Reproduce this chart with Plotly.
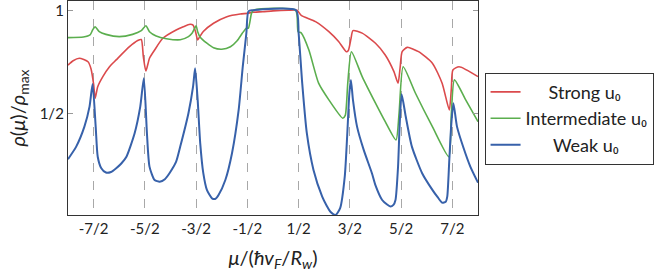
import plotly.graph_objects as go

# ---- data ----
tick_vals = [-3.5, -2.5, -1.5, -0.5, 0.5, 1.5, 2.5, 3.5]
tick_text = ["-7/2", "-5/2", "-3/2", "-1/2", "1/2", "3/2", "5/2", "7/2"]
ytick_vals = [0.5, 1.0]
ytick_text = ["1/2", "1"]

strong_x = [-4.00, -3.90, -3.78, -3.61, -3.55, -3.50, -3.47, -3.42, -3.32, -3.19, -3.06, -2.80,
            -2.64, -2.57, -2.53, -2.48, -2.41, -2.31, -2.15, -1.89, -1.75, -1.62, -1.56, -1.51,
            -1.47, -1.42, -1.36, -1.16, -0.90, -0.64, -0.50, -0.40, -0.20, 0.00, 0.30, 0.47,
            0.55, 0.83, 1.09, 1.28, 1.43, 1.47, 1.52, 1.56, 1.74, 2.00, 2.19, 2.36, 2.44, 2.48,
            2.52, 2.62, 2.84, 3.11, 3.30, 3.44, 3.48, 3.51, 3.63, 4.00]
strong_y = [0.734, 0.755, 0.767, 0.750, 0.715, 0.640, 0.573, 0.629, 0.678, 0.726, 0.759, 0.823,
            0.853, 0.858, 0.775, 0.705, 0.767, 0.807, 0.864, 0.904, 0.920, 0.932, 0.928, 0.895,
            0.856, 0.875, 0.897, 0.937, 0.969, 0.982, 0.985, 0.990, 0.993, 0.997, 1.000, 1.000,
            0.975, 0.945, 0.896, 0.848, 0.799, 0.805, 0.860, 0.901, 0.889, 0.840, 0.783, 0.702,
            0.646, 0.720, 0.799, 0.820, 0.799, 0.743, 0.646, 0.516, 0.620, 0.710, 0.726, 0.678]

inter_x = [-4.00, -3.70, -3.57, -3.52, -3.47, -3.39, -3.26, -3.00, -2.74, -2.57, -2.48, -2.41,
           -2.28, -2.08, -1.81, -1.65, -1.58, -1.50, -1.47, -1.42, -1.29, -1.16, -1.00, -0.83,
           -0.70, -0.60, -0.52, -0.48, -0.42, -0.38, 0.44, 0.49, 0.55, 0.70, 0.89, 1.09, 1.36,
           1.41, 1.46, 1.53, 1.74, 2.00, 2.19, 2.40, 2.46, 2.54, 2.78, 3.11, 3.43, 3.48, 3.54,
           3.76, 4.00]
inter_y = [0.867, 0.870, 0.880, 0.904, 0.920, 0.896, 0.883, 0.872, 0.883, 0.901, 0.925, 0.896,
           0.875, 0.862, 0.857, 0.872, 0.888, 0.924, 0.896, 0.869, 0.840, 0.818, 0.811, 0.823,
           0.852, 0.888, 0.913, 0.913, 0.985, 1.000, 1.000, 0.896, 0.890, 0.807, 0.646, 0.565,
           0.476, 0.490, 0.650, 0.799, 0.678, 0.549, 0.459, 0.370, 0.500, 0.726, 0.597, 0.435,
           0.289, 0.500, 0.662, 0.565, 0.459]

weak_x = [-4.00, -3.84, -3.68, -3.58, -3.52, -3.46, -3.42, -3.35, -3.26, -3.16, -3.06, -2.96,
          -2.86, -2.70, -2.59, -2.52, -2.46, -2.41, -2.31, -2.21, -2.11, -2.02, -1.89, -1.81,
          -1.65, -1.56, -1.52, -1.47, -1.42, -1.36, -1.29, -1.19, -1.12, -1.06, -0.93, -0.80,
          -0.67, -0.59, -0.52, -0.48, -0.40, 0.45, 0.50, 0.57, 0.66, 0.79, 0.96, 1.05, 1.12,
          1.22, 1.31, 1.40, 1.45, 1.49, 1.52, 1.56, 1.64, 1.77, 1.93, 2.00, 2.13, 2.22, 2.29,
          2.35, 2.39, 2.44, 2.47, 2.51, 2.59, 2.71, 2.91, 3.11, 3.22, 3.30, 3.37, 3.40, 3.44,
          3.48, 3.52, 3.59, 3.72, 3.85, 4.00]
weak_y = [0.277, 0.338, 0.435, 0.532, 0.642, 0.435, 0.289, 0.233, 0.212, 0.215, 0.233, 0.256,
          0.289, 0.403, 0.532, 0.670, 0.403, 0.241, 0.176, 0.168, 0.180, 0.209, 0.265, 0.338,
          0.500, 0.629, 0.718, 0.565, 0.354, 0.209, 0.128, 0.087, 0.085, 0.104, 0.176, 0.306,
          0.516, 0.726, 0.888, 0.995, 1.000, 1.000, 0.888, 0.646, 0.403, 0.225, 0.095, 0.050,
          0.022, 0.006, 0.039, 0.192, 0.403, 0.597, 0.662, 0.565, 0.435, 0.322, 0.209, 0.150,
          0.079, 0.058, 0.047, 0.055, 0.079, 0.241, 0.435, 0.592, 0.484, 0.338, 0.209, 0.128,
          0.090, 0.066, 0.070, 0.095, 0.273, 0.451, 0.549, 0.435, 0.330, 0.241, 0.163]

names = ["Strong u₀", "Intermediate u₀", "Weak u₀"]
colors = ["#DB4A4C", "#5BAE4E", "#3761AA"]

NB = "\u00a0"
FONT = "Lato, 'DejaVu Sans', sans-serif"

fig = go.Figure()
series = [(strong_x, strong_y), (inter_x, inter_y), (weak_x, weak_y)]
pads = [NB * 5, "", NB * 6]
widths = [1.6, 1.6, 2.0]
for (xs, ys), nm, c, p, w in zip(series, names, colors, pads, widths):
    fig.add_trace(go.Scatter(x=xs, y=ys, mode="lines", name=p + nm,
                             line=dict(color=c, width=w, shape="spline", smoothing=0.6)))

fig.update_layout(
    width=664, height=275,
    margin=dict(l=68, r=186, t=1, b=60, autoexpand=False),
    paper_bgcolor="white", plot_bgcolor="white",
    font=dict(family=FONT, color="#222", size=15),
    showlegend=True,
    legend=dict(x=1.016, y=0.665, xanchor="left", yanchor="top",
                bordercolor="#333", borderwidth=1, bgcolor="white",
                font=dict(size=18, family=FONT), tracegroupgap=0),
    xaxis=dict(range=[-4, 4], tickvals=tick_vals, ticktext=tick_text, automargin=False,
               showgrid=True, gridcolor="#A8A8A8", griddash="dash", gridwidth=1.3,
               zeroline=False, showline=True, linecolor="#333", linewidth=1.3, mirror=True,
               ticks="", tickfont=dict(size=15),
               title=dict(text="<i>μ</i>/(<i>ħv</i><sub><i>F</i></sub>/<i>R</i><sub><i>w</i></sub>)",
                          font=dict(size=20), standoff=14)),
    yaxis=dict(range=[0.006, 1.045], tickvals=ytick_vals, ticktext=ytick_text, automargin=False,
               showgrid=False, zeroline=False, showline=True, linecolor="#333", linewidth=1.3,
               mirror="allticks", ticks="inside", ticklen=5, tickcolor="#999",
               tickfont=dict(size=15),
               title=dict(text="<i>ρ</i>(<i>μ</i>)/<i>ρ</i><sub>max</sub>",
                          font=dict(size=20), standoff=8)),
)

fig.write_html("out.html", config={"displayModeBar": False},
               post_script="document.body.style.margin='0';")
